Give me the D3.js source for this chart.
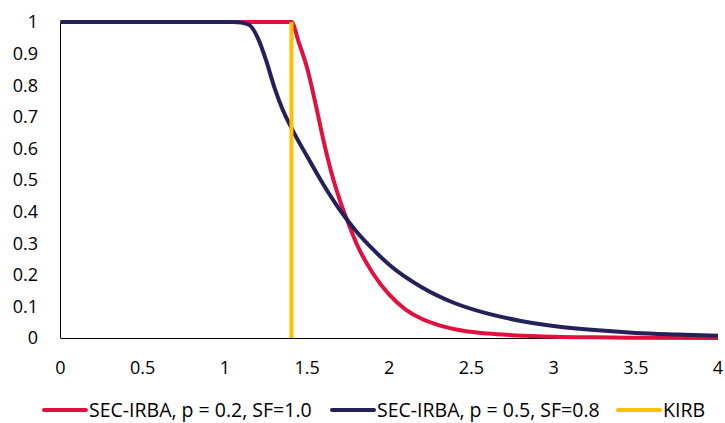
<html>
<head>
<title>SEC-IRBA vs KIRB</title>
<script src="https://d3js.org/d3.v7.min.js"></script>
<style>
  body { margin: 0; background: #fff; }
  text { font-family: "Open Sans", sans-serif; fill: #000; }
</style>
</head>
<body>
<script>
// series
const redX = [0, 1.0, 1.3, 1.405, 1.45, 1.5, 1.55, 1.6, 1.65, 1.7, 1.75, 1.8, 1.9, 2.0, 2.1, 2.2, 2.3, 2.45, 2.6, 2.75, 3.0, 3.25, 3.5, 4.0]
const redY = [1, 1, 1, 1, 0.935, 0.855, 0.745, 0.625, 0.52, 0.435, 0.365, 0.3, 0.205, 0.137, 0.09, 0.06, 0.041, 0.023, 0.014, 0.009, 0.004, 0.002, 0.001, 0.0]

const navyX = [0, 1.05, 1.1, 1.15, 1.2, 1.25, 1.3, 1.35, 1.4, 1.5, 1.6, 1.7, 1.8, 1.9, 2.0, 2.2, 2.4, 2.6, 2.8, 3.0, 3.25, 3.5, 3.75, 4.0]
const navyY = [1, 1, 0.998, 0.99, 0.95, 0.88, 0.795, 0.725, 0.67, 0.575, 0.485, 0.405, 0.337, 0.281, 0.232, 0.16, 0.11, 0.077, 0.054, 0.038, 0.025, 0.016, 0.011, 0.007]

const kirbX = [1.405, 1.405]
const kirbY = [0, 1]

const xTicks = [0, 0.5, 1, 1.5, 2, 2.5, 3, 3.5, 4]
const yTicks = [0, 0.1, 0.2, 0.3, 0.4, 0.5, 0.6, 0.7, 0.8, 0.9, 1]

const seriesNames = ["SEC-IRBA, p = 0.2, SF=1.0", "SEC-IRBA, p = 0.5, SF=0.8", "KIRB"]
const colors = ["#E0113F", "#23205A", "#FFC000"]

const W = 725, H = 423
const x = d3.scaleLinear().domain([0, 4]).range([60.5, 718])
const y = d3.scaleLinear().domain([0, 1]).range([338, 22])

const svg = d3.select("body").append("svg").attr("width", W).attr("height", H)

// axis lines
svg.append("line").attr("x1", x(0)).attr("x2", x(0)).attr("y1", y(1)).attr("y2", y(0))
    .attr("stroke", "#000").attr("stroke-width", 1)
svg.append("line").attr("x1", x(0)).attr("x2", x(4)).attr("y1", y(0) + 0.5).attr("y2", y(0) + 0.5)
    .attr("stroke", "#000").attr("stroke-width", 1)

// tick labels
svg.append("g").selectAll("text").data(yTicks).join("text")
    .attr("x", 38).attr("y", d => y(d)).attr("dy", "0.35em")
    .attr("text-anchor", "end").attr("font-size", 18)
    .text(d => d3.format("~g")(d))
svg.append("g").selectAll("text").data(xTicks).join("text")
    .attr("x", d => x(d)).attr("y", 368).attr("dy", "0.35em")
    .attr("text-anchor", "middle").attr("font-size", 18)
    .text(d => d3.format("~g")(d))

const line = d3.line().x(d => x(d[0])).y(d => y(d[1])).curve(d3.curveMonotoneX)

const series = [
    d3.zip(redX, redY),
    d3.zip(navyX, navyY)
]
svg.append("g").selectAll("path").data(series).join("path")
    .attr("d", line).attr("fill", "none")
    .attr("stroke", (d, i) => colors[i]).attr("stroke-width", 4)
    .attr("stroke-linejoin", "round")

// KIRB vertical
svg.append("line")
    .attr("x1", x(kirbX[0])).attr("x2", x(kirbX[1]))
    .attr("y1", y(kirbY[0])).attr("y2", y(kirbY[1]))
    .attr("stroke", colors[2]).attr("stroke-width", 4)

// legend
const legendX = [43, 331, 617]
const lg = svg.append("g").selectAll("g").data(seriesNames).join("g")
    .attr("transform", (d, i) => `translate(${legendX[i]},410)`)
lg.append("line").attr("x1", 1).attr("x2", 43).attr("y1", 0).attr("y2", 0)
    .attr("stroke", (d, i) => colors[i]).attr("stroke-width", 4).attr("stroke-linecap", "round")
lg.append("text").attr("x", 46).attr("y", 6.5).attr("font-size", 19.5)
    .text(d => d)
</script>
</body>
</html>
